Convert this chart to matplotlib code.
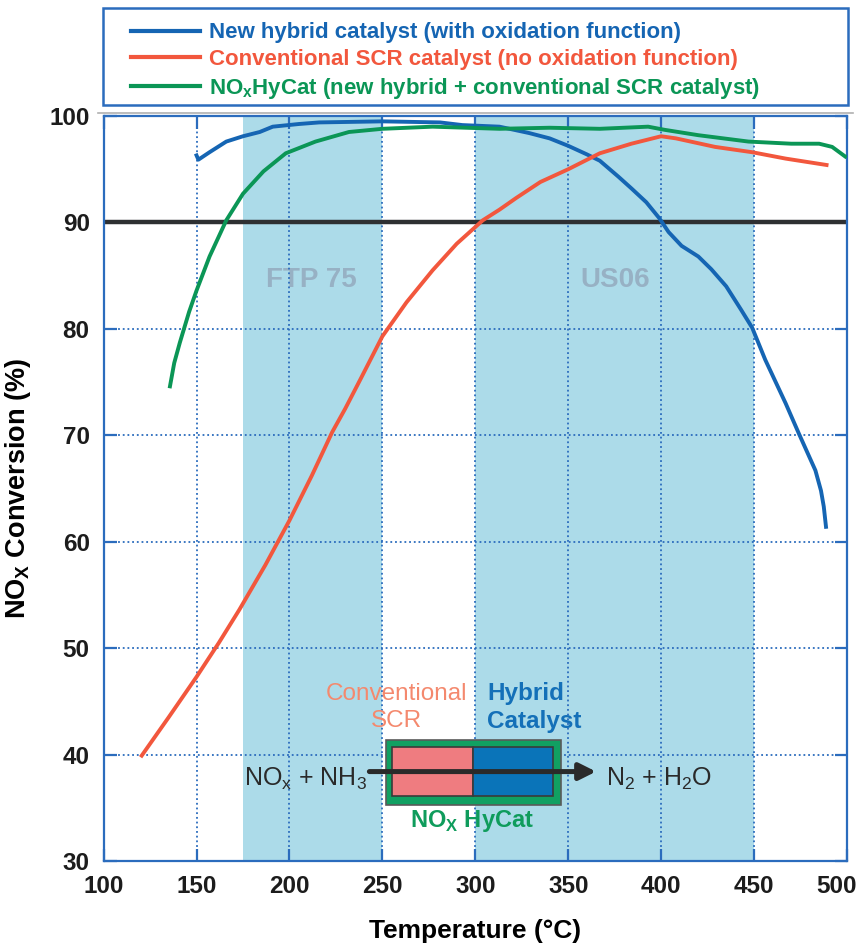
import matplotlib
matplotlib.use("Agg")
import matplotlib.pyplot as plt
import matplotlib.transforms as mtransforms
from matplotlib.patches import Rectangle, FancyArrowPatch
from matplotlib.lines import Line2D

plt.rcParams['font.family'] = ['Liberation Sans', 'DejaVu Sans']
plt.rcParams['mathtext.fontset'] = 'custom'
plt.rcParams['mathtext.rm'] = 'Liberation Sans'
plt.rcParams['mathtext.bf'] = 'Liberation Sans:bold'

# --- data ---
hybrid_t = [150, 151, 157, 166, 175, 184, 191, 205, 216, 250, 281, 293, 313, 329,
            340, 350, 360, 367, 377, 384, 392, 399, 404, 411, 420, 427, 435, 443,
            449, 456, 467, 474, 483, 486, 487.5, 488.7]
hybrid_c = [96.3, 95.9, 96.6, 97.6, 98.1, 98.5, 99.0, 99.25, 99.4, 99.5, 99.4, 99.15,
            99.0, 98.4, 97.9, 97.2, 96.4, 95.8, 94.3, 93.2, 91.9, 90.4, 89.1, 87.8,
            86.8, 85.6, 84.0, 81.8, 80.1, 77.1, 73.0, 70.2, 66.7, 64.8, 63.3, 61.4]

scr_t = [120.5, 135, 150, 162, 173, 187, 200, 212, 223, 230, 238, 250, 263, 277, 290,
         304, 313, 322, 335, 350, 367, 384, 400, 408, 429, 449, 467, 489]
scr_c = [39.9, 43.5, 47.3, 50.5, 53.6, 57.8, 62.0, 66.2, 70.3, 72.5, 75.2, 79.3, 82.5,
         85.5, 88.0, 90.2, 91.2, 92.3, 93.8, 95.0, 96.5, 97.4, 98.1, 97.9, 97.1, 96.6,
         96.0, 95.4]

hycat_t = [135.7, 138, 141, 146, 150, 157, 166, 175, 186, 198, 214, 232, 250, 277, 313,
           340, 367, 393, 402, 420, 447, 470, 485, 492, 499]
hycat_c = [74.6, 76.8, 78.7, 81.6, 83.6, 86.8, 90.2, 92.7, 94.8, 96.5, 97.6, 98.5, 98.8,
           99.0, 98.8, 98.9, 98.8, 99.0, 98.7, 98.2, 97.6, 97.4, 97.4, 97.1, 96.2]

cycle_names = ['FTP 75', 'US06']
cycle_ranges = [(175, 250), (300, 450)]
target = 90

x_ticks = [100, 150, 200, 250, 300, 350, 400, 450, 500]
y_ticks = [30, 40, 50, 60, 70, 80, 90, 100]

labels = ['New hybrid catalyst (with oxidation function)',
          'Conventional SCR catalyst (no oxidation function)',
          r'NO$_\mathbf{x}$HyCat (new hybrid + conventional SCR catalyst)']
colors = ['#1565b3', '#f2573d', '#0b9656']

blue_spine = '#2b6cbd'

fig = plt.figure(figsize=(8.62, 9.48), dpi=100)
ax = fig.add_axes([0.1202, 0.0918, 0.8624, 0.7858])

# driving cycle bands
for name, (a, b) in zip(cycle_names, cycle_ranges):
    ax.axvspan(a, b, color='#acdbe9', zorder=0.2, lw=0)
    ax.text((a + b) / 2 + (0 if name == 'US06' else -0.5), 84.6, name,
            ha='center', va='center', fontsize=20, fontweight='bold',
            color='#97b1c4', zorder=0.4)

ax.axhline(target, color='#2e3032', lw=3.2, zorder=1.8)

ax.plot(hybrid_t, hybrid_c, color=colors[0], lw=2.8, zorder=3)
ax.plot(scr_t, scr_c, color=colors[1], lw=2.8, zorder=3)
ax.plot(hycat_t, hycat_c, color=colors[2], lw=2.8, zorder=3)

ax.set_xlim(100, 500)
ax.set_ylim(30, 100)
ax.set_xticks(x_ticks)
ax.set_yticks(y_ticks)
ax.set_axisbelow(True)
ax.grid(True, color=blue_spine, lw=1.3, linestyle=(0, (1, 1.6)))
for s in ax.spines.values():
    s.set_color(blue_spine)
    s.set_linewidth(1.6)
ax.tick_params(direction='in', length=9, width=1.6, color=blue_spine,
               top=True, right=True, labelsize=17.5, pad=10, labelcolor='#1c1c1c')
for lab in ax.get_xticklabels() + ax.get_yticklabels():
    lab.set_fontweight('bold')
# last x label sits a bit left so it stays on the page
last = ax.get_xticklabels()[-1]
last.set_transform(last.get_transform() +
                   mtransforms.ScaledTranslation(-10 / 100, 0, fig.dpi_scale_trans))

ax.set_xlabel('Temperature (°C)', fontsize=19, fontweight='bold', labelpad=15)
ax.set_ylabel(r'NO$_\mathbf{X}$ Conversion (%)', fontsize=19.5, fontweight='bold',
              labelpad=12)

# inset schematic
ax.add_patch(Rectangle((252, 35.3), 94.3, 6.1, facecolor='#11a062',
                       edgecolor='#5a5a5a', lw=1.2, zorder=4))
ax.add_patch(Rectangle((255.3, 36.1), 43.2, 4.6, facecolor='#ef7c80',
                       edgecolor='#3a3a3a', lw=1.2, zorder=4.1))
ax.add_patch(Rectangle((298.5, 36.1), 43.5, 4.6, facecolor='#0a74b9',
                       edgecolor='#3a3a3a', lw=1.2, zorder=4.1))
ax.add_patch(FancyArrowPatch((243, 38.4), (365, 38.4), arrowstyle='-|>',
                             mutation_scale=25, lw=3.6, color='#2a2a2a',
                             shrinkA=0, shrinkB=0, zorder=5))
ax.text(241.5, 37.1, r'NO$_\mathregular{x}$ + NH$_\mathregular{3}$', ha='right',
        va='baseline', fontsize=18, color='#2a2a2a', zorder=5)
ax.text(370.5, 37.1, r'N$_\mathregular{2}$ + H$_\mathregular{2}$O', ha='left',
        va='baseline', fontsize=18, color='#2a2a2a', zorder=5)
ax.text(257.5, 44.4, 'Conventional\nSCR', ha='center', va='center', fontsize=17.5,
        color='#f4896e', linespacing=1.3, zorder=5)
ax.text(306.5, 44.4, 'Hybrid\nCatalyst', ha='left', va='center', fontsize=17.5,
        fontweight='bold', color='#1470b8', linespacing=1.3, zorder=5)
ax.text(298, 33.8, r'NO$_\mathbf{X}$ HyCat', ha='center', va='center', fontsize=17,
        fontweight='bold', color='#0f9c5c', zorder=5)

# legend box above axes
handles = [Line2D([], [], color=c, lw=3) for c in colors]
fig.legend(handles, labels, loc='upper left', bbox_to_anchor=(0.139, 0.988),
           frameon=False, prop={'weight': 'bold', 'size': 16},
           handlelength=3.1, handletextpad=0.4, labelspacing=0.26, borderpad=0,
           labelcolor='linecolor')
fig.add_artist(Rectangle((0.1195, 0.889), 0.864, 0.1025, transform=fig.transFigure,
                         fill=False, edgecolor=blue_spine, lw=1.8))
fig.add_artist(Line2D([0.114, 0.99], [0.881, 0.881], transform=fig.transFigure,
                      color='#b0b0b0', lw=1.2))

fig.savefig('out.png', dpi=100)
